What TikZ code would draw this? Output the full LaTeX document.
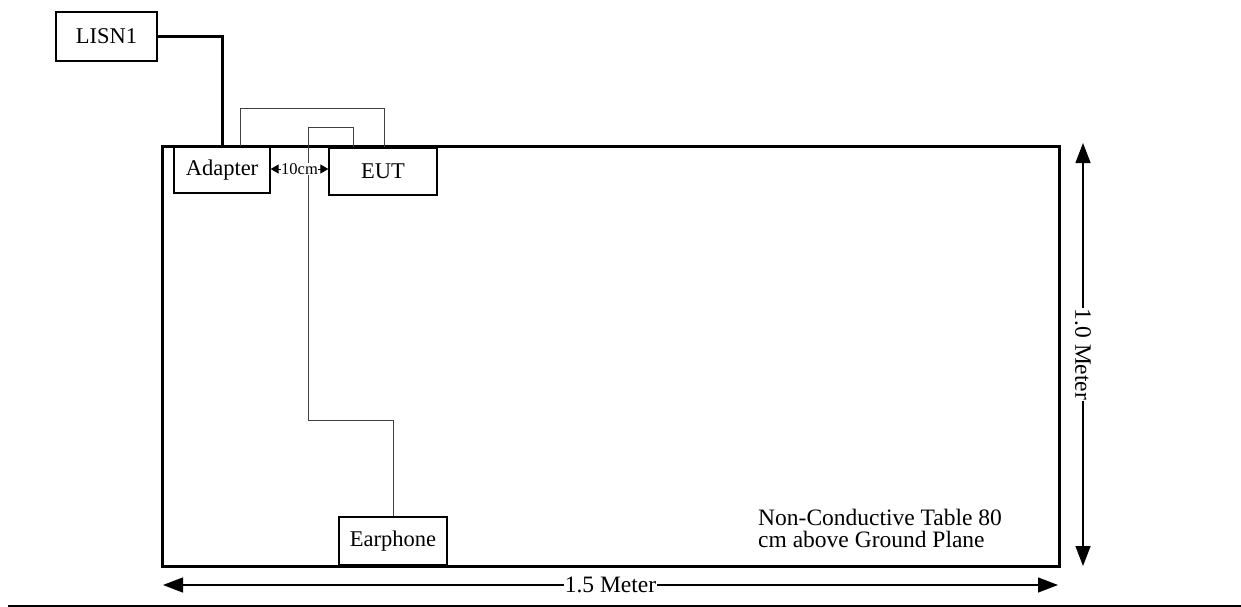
\documentclass[tikz,border=0pt]{standalone}
\usepackage{fontspec}
\setmainfont{Liberation Serif}
\usetikzlibrary{arrows.meta}
\begin{document}
\begin{tikzpicture}[x=1pt,y=-1pt,
  lbl/.style={font=\fontsize{22.5}{22}\selectfont},
  big/.style={font=\fontsize{23.5}{22}\selectfont},
  box/.style={draw,line width=1.3pt,fill=white,inner sep=0pt,lbl},
  cable/.style={line width=0.9pt,black!75},
  thick cable/.style={line width=3pt,line cap=rect},
  dim/.style={line width=1.3pt,{Triangle[length=20pt,width=15pt]}-{Triangle[length=20pt,width=15pt]}},
  small dim/.style={line width=1pt,{Triangle[length=8pt,width=9pt]}-{Triangle[length=8pt,width=9pt]}}
]
\useasboundingbox (0,0) rectangle (1241,607);
% table
\node[draw,line width=3pt,minimum width=897pt,minimum height=420pt,inner sep=0pt] (table) at (610.5,356) {};
% boxes
\node[box,minimum width=101pt,minimum height=49pt] (lisn) at (106.5,36.5) {LISN1};
\node[box,minimum width=96pt,minimum height=46pt] (adapter) at (222,170) {Adapter};
\node[box,minimum width=108pt,minimum height=47pt] (eut) at (383,171.5) {EUT};
\node[box,minimum width=108pt,minimum height=48pt] (ear) at (393,541) {Earphone};
% cables
\draw[thick cable] (lisn.east) -| (adapter.north);
\draw[cable] ([xshift=18pt]adapter.north) -- ++(0,-38) -| ([xshift=1pt]eut.north);
\coordinate (bend) at (308,420);
\draw[cable] ([xshift=-30pt]eut.north) -- ++(0,-20) -| (bend) -| (ear.north);
% 10cm
\draw[small dim] ([yshift=1pt]adapter.east) -- node[fill=white,inner sep=0.5pt,font=\fontsize{16.5}{16.5}\selectfont] {10cm} ([yshift=2.5pt]eut.west);
% dimensions
\coordinate (hl) at (163,585);
\coordinate (hr) at (1058,585);
\draw[dim] (hl) -- node[fill=white,inner sep=0.5pt,big] {1.5 Meter} (hr);
\coordinate (vt) at (1083,143);
\coordinate (vb) at (1083,566);
\draw[dim] (vt) -- node[fill=white,inner sep=0.5pt,big,rotate=-90] {1.0 Meter} (vb);
% note
\node[big,anchor=north west,inner sep=0pt,align=left] (note) at (758,509) {Non-Conductive Table 80\\cm above Ground Plane};
% bottom rule
\coordinate (bl) at (8,606);
\coordinate (br) at (1241,606);
\draw[line width=2pt] (bl) -- (br);
\end{tikzpicture}
\end{document}
